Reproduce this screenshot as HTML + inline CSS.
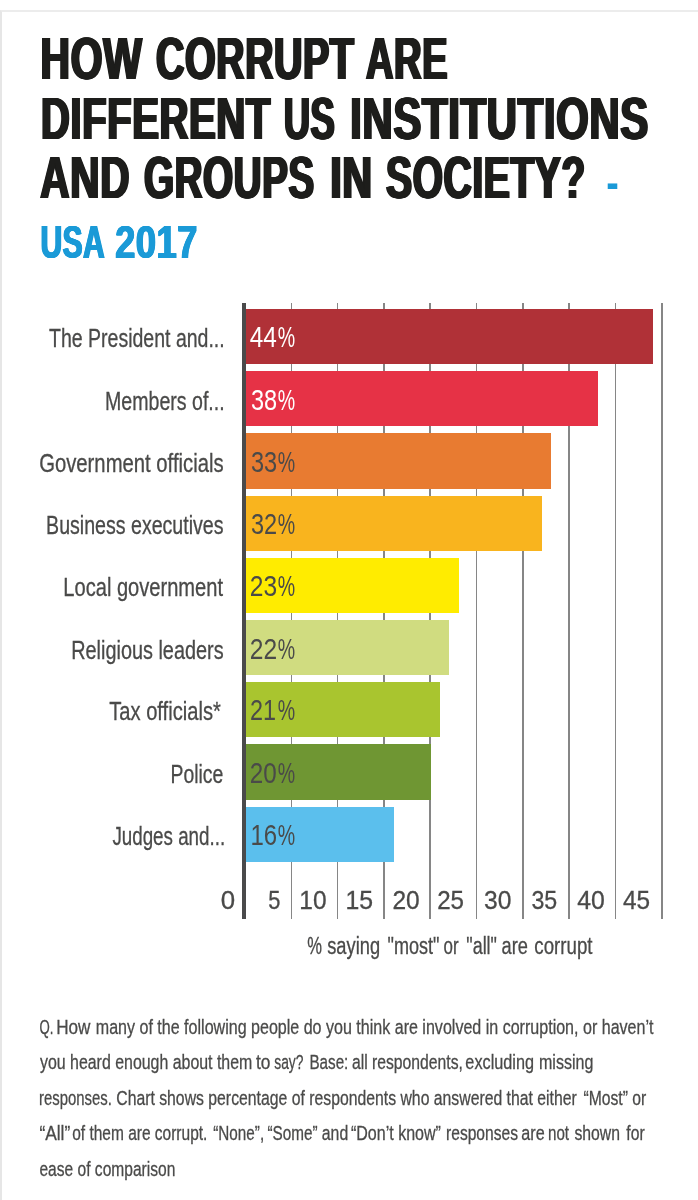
<!DOCTYPE html>
<html lang="en"><head><meta charset="utf-8"><title>How corrupt are different US institutions and groups in society? - USA 2017</title>
<style>
html,body{margin:0;padding:0;background:#fff;}
body{width:698px;height:1200px;position:relative;overflow:hidden;font-family:"Liberation Sans", sans-serif;}
.frame{position:absolute;left:0;top:10px;width:720px;height:1300px;border-top:2px solid #ececec;border-left:2px solid #e6e6e6;box-sizing:border-box;}
.t{position:absolute;left:0;white-space:nowrap;transform-origin:0 0;display:block;margin:0;padding:0;}
.bar{position:absolute;left:245.1px;height:55.3px;}
.grid{position:absolute;top:303px;height:615.5px;width:1.4px;background:#868686;}
.axis{position:absolute;left:242.2px;top:303px;width:3.5px;height:615.5px;background:#4a4a4b;}
.dash{position:absolute;left:607.4px;top:182.5px;width:10px;height:5.6px;background:#1a9ad7;}
</style></head><body>
<div class="frame"></div>
<div class="chart">
<div class="grid" style="left:290.50px"></div>
<div class="grid" style="left:336.83px"></div>
<div class="grid" style="left:383.16px"></div>
<div class="grid" style="left:429.49px"></div>
<div class="grid" style="left:475.82px"></div>
<div class="grid" style="left:522.15px"></div>
<div class="grid" style="left:568.48px"></div>
<div class="grid" style="left:614.81px"></div>
<div class="grid" style="left:661.14px"></div>
<div class="bar" style="top:309.00px;width:408.32px;background:#b03137"></div>
<div class="bar" style="top:371.20px;width:352.64px;background:#e63246"></div>
<div class="bar" style="top:433.40px;width:306.24px;background:#e87b31"></div>
<div class="bar" style="top:495.60px;width:296.96px;background:#f9b41e"></div>
<div class="bar" style="top:557.80px;width:213.44px;background:#ffec00"></div>
<div class="bar" style="top:620.00px;width:204.16px;background:#d0dc80"></div>
<div class="bar" style="top:682.20px;width:194.88px;background:#a9c52f"></div>
<div class="bar" style="top:744.40px;width:185.60px;background:#6f9633"></div>
<div class="bar" style="top:806.60px;width:148.48px;background:#5bbfed"></div>
<div class="axis"></div>
</div>
<span class="t" id="t0" style="top:29px;font-size:59.5px;line-height:59.5px;font-weight:700;color:#1d1d1b;transform:translateX(40.33px) scaleX(0.6917);letter-spacing:0.8px;text-shadow:1.73px 0 0 #1d1d1b,-1.73px 0 0 #1d1d1b,0.87px 0 0 #1d1d1b,-0.87px 0 0 #1d1d1b;">HOW</span>
<span class="t" id="t1" style="top:29px;font-size:59.5px;line-height:59.5px;font-weight:700;color:#1d1d1b;transform:translateX(155.97px) scaleX(0.6619);letter-spacing:0.8px;text-shadow:1.81px 0 0 #1d1d1b,-1.81px 0 0 #1d1d1b,0.91px 0 0 #1d1d1b,-0.91px 0 0 #1d1d1b;">CORRUPT</span>
<span class="t" id="t2" style="top:29px;font-size:59.5px;line-height:59.5px;font-weight:700;color:#1d1d1b;transform:translateX(365.90px) scaleX(0.6422);letter-spacing:0.8px;text-shadow:1.87px 0 0 #1d1d1b,-1.87px 0 0 #1d1d1b,0.93px 0 0 #1d1d1b,-0.93px 0 0 #1d1d1b;">ARE</span>
<span class="t" id="t3" style="top:89px;font-size:59.5px;line-height:59.5px;font-weight:700;color:#1d1d1b;transform:translateX(40.89px) scaleX(0.6744);letter-spacing:0.8px;text-shadow:1.78px 0 0 #1d1d1b,-1.78px 0 0 #1d1d1b,0.89px 0 0 #1d1d1b,-0.89px 0 0 #1d1d1b;">DIFFERENT</span>
<span class="t" id="t4" style="top:89px;font-size:59.5px;line-height:59.5px;font-weight:700;color:#1d1d1b;transform:translateX(283.90px) scaleX(0.6094);letter-spacing:0.8px;text-shadow:1.97px 0 0 #1d1d1b,-1.97px 0 0 #1d1d1b,0.98px 0 0 #1d1d1b,-0.98px 0 0 #1d1d1b;">US</span>
<span class="t" id="t5" style="top:89px;font-size:59.5px;line-height:59.5px;font-weight:700;color:#1d1d1b;transform:translateX(350.17px) scaleX(0.7065);letter-spacing:0.8px;text-shadow:1.70px 0 0 #1d1d1b,-1.70px 0 0 #1d1d1b,0.85px 0 0 #1d1d1b,-0.85px 0 0 #1d1d1b;">INSTITUTIONS</span>
<span class="t" id="t6" style="top:148px;font-size:59.5px;line-height:59.5px;font-weight:700;color:#1d1d1b;transform:translateX(40.16px) scaleX(0.6854);letter-spacing:0.8px;text-shadow:1.75px 0 0 #1d1d1b,-1.75px 0 0 #1d1d1b,0.88px 0 0 #1d1d1b,-0.88px 0 0 #1d1d1b;">AND</span>
<span class="t" id="t7" style="top:148px;font-size:59.5px;line-height:59.5px;font-weight:700;color:#1d1d1b;transform:translateX(143.99px) scaleX(0.6500);letter-spacing:0.8px;text-shadow:1.85px 0 0 #1d1d1b,-1.85px 0 0 #1d1d1b,0.92px 0 0 #1d1d1b,-0.92px 0 0 #1d1d1b;">GROUPS</span>
<span class="t" id="t8" style="top:148px;font-size:59.5px;line-height:59.5px;font-weight:700;color:#1d1d1b;transform:translateX(330.22px) scaleX(0.6950);letter-spacing:0.8px;text-shadow:1.73px 0 0 #1d1d1b,-1.73px 0 0 #1d1d1b,0.86px 0 0 #1d1d1b,-0.86px 0 0 #1d1d1b;">IN</span>
<span class="t" id="t9" style="top:148px;font-size:59.5px;line-height:59.5px;font-weight:700;color:#1d1d1b;transform:translateX(385.99px) scaleX(0.6575);letter-spacing:0.8px;text-shadow:1.83px 0 0 #1d1d1b,-1.83px 0 0 #1d1d1b,0.91px 0 0 #1d1d1b,-0.91px 0 0 #1d1d1b;">SOCIETY?</span>
<span class="t" id="t10" style="top:158px;font-size:47px;line-height:47px;font-weight:700;color:#1a9ad7;transform:translateX(606.22px) scaleX(0.8010);">-</span>
<span class="t" id="t11" style="top:218px;font-size:47px;line-height:47px;font-weight:700;color:#1a9ad7;transform:translateX(40.49px) scaleX(0.6404);letter-spacing:0.5px;text-shadow:1.09px 0 0 #1a9ad7,-1.09px 0 0 #1a9ad7,0.55px 0 0 #1a9ad7,-0.55px 0 0 #1a9ad7;">USA</span>
<span class="t" id="t12" style="top:218px;font-size:47px;line-height:47px;font-weight:700;color:#1a9ad7;transform:translateX(115.16px) scaleX(0.7752);letter-spacing:0.5px;text-shadow:0.90px 0 0 #1a9ad7,-0.90px 0 0 #1a9ad7,0.45px 0 0 #1a9ad7,-0.45px 0 0 #1a9ad7;">2017</span>
<span class="t" id="t13" style="top:326px;font-size:25.5px;line-height:25.5px;font-weight:400;color:#4a4a49;transform:translateX(49.12px) scaleX(0.7644);-webkit-text-stroke:0.3px #4a4a49;">The President and...</span>
<span class="t" id="t14" style="top:389px;font-size:25.5px;line-height:25.5px;font-weight:400;color:#4a4a49;transform:translateX(105.07px) scaleX(0.7672);-webkit-text-stroke:0.3px #4a4a49;">Members of...</span>
<span class="t" id="t15" style="top:451px;font-size:25.5px;line-height:25.5px;font-weight:400;color:#4a4a49;transform:translateX(39.15px) scaleX(0.7951);-webkit-text-stroke:0.3px #4a4a49;">Government officials</span>
<span class="t" id="t16" style="top:513px;font-size:25.5px;line-height:25.5px;font-weight:400;color:#4a4a49;transform:translateX(46.06px) scaleX(0.7682);-webkit-text-stroke:0.3px #4a4a49;">Business executives</span>
<span class="t" id="t17" style="top:575px;font-size:25.5px;line-height:25.5px;font-weight:400;color:#4a4a49;transform:translateX(63.32px) scaleX(0.7879);-webkit-text-stroke:0.3px #4a4a49;">Local government</span>
<span class="t" id="t18" style="top:638px;font-size:25.5px;line-height:25.5px;font-weight:400;color:#4a4a49;transform:translateX(71.24px) scaleX(0.7787);-webkit-text-stroke:0.3px #4a4a49;">Religious leaders</span>
<span class="t" id="t19" style="top:699px;font-size:25.5px;line-height:25.5px;font-weight:400;color:#4a4a49;transform:translateX(109.20px) scaleX(0.7904);-webkit-text-stroke:0.3px #4a4a49;">Tax officials*</span>
<span class="t" id="t20" style="top:762px;font-size:25.5px;line-height:25.5px;font-weight:400;color:#4a4a49;transform:translateX(170.48px) scaleX(0.7594);-webkit-text-stroke:0.3px #4a4a49;">Police</span>
<span class="t" id="t21" style="top:824px;font-size:25.5px;line-height:25.5px;font-weight:400;color:#4a4a49;transform:translateX(112.38px) scaleX(0.7367);-webkit-text-stroke:0.3px #4a4a49;">Judges and...</span>
<span class="t" id="t22" style="top:322px;font-size:30px;line-height:30px;font-weight:400;color:#ffffff;transform:translateX(249.72px) scaleX(0.8117);">44</span>
<span class="t" id="t23" style="top:322px;font-size:30px;line-height:30px;font-weight:400;color:#ffffff;transform:translateX(277.69px) scaleX(0.6521);">%</span>
<span class="t" id="t24" style="top:385px;font-size:30px;line-height:30px;font-weight:400;color:#ffffff;transform:translateX(250.96px) scaleX(0.7849);">38</span>
<span class="t" id="t25" style="top:385px;font-size:30px;line-height:30px;font-weight:400;color:#ffffff;transform:translateX(277.69px) scaleX(0.6521);">%</span>
<span class="t" id="t26" style="top:447px;font-size:30px;line-height:30px;font-weight:400;color:#4a4a49;transform:translateX(250.96px) scaleX(0.7849);">33</span>
<span class="t" id="t27" style="top:447px;font-size:30px;line-height:30px;font-weight:400;color:#4a4a49;transform:translateX(277.69px) scaleX(0.6521);">%</span>
<span class="t" id="t28" style="top:509px;font-size:30px;line-height:30px;font-weight:400;color:#4a4a49;transform:translateX(250.96px) scaleX(0.7849);">32</span>
<span class="t" id="t29" style="top:509px;font-size:30px;line-height:30px;font-weight:400;color:#4a4a49;transform:translateX(277.69px) scaleX(0.6521);">%</span>
<span class="t" id="t30" style="top:571px;font-size:30px;line-height:30px;font-weight:400;color:#4a4a49;transform:translateX(249.85px) scaleX(0.8196);">23</span>
<span class="t" id="t31" style="top:571px;font-size:30px;line-height:30px;font-weight:400;color:#4a4a49;transform:translateX(277.69px) scaleX(0.6521);">%</span>
<span class="t" id="t32" style="top:634px;font-size:30px;line-height:30px;font-weight:400;color:#4a4a49;transform:translateX(249.85px) scaleX(0.8196);">22</span>
<span class="t" id="t33" style="top:634px;font-size:30px;line-height:30px;font-weight:400;color:#4a4a49;transform:translateX(277.69px) scaleX(0.6521);">%</span>
<span class="t" id="t34" style="top:695px;font-size:30px;line-height:30px;font-weight:400;color:#4a4a49;transform:translateX(249.90px) scaleX(0.7806);">21</span>
<span class="t" id="t35" style="top:695px;font-size:30px;line-height:30px;font-weight:400;color:#4a4a49;transform:translateX(277.69px) scaleX(0.6521);">%</span>
<span class="t" id="t36" style="top:758px;font-size:30px;line-height:30px;font-weight:400;color:#4a4a49;transform:translateX(249.86px) scaleX(0.8073);">20</span>
<span class="t" id="t37" style="top:758px;font-size:30px;line-height:30px;font-weight:400;color:#4a4a49;transform:translateX(277.69px) scaleX(0.6521);">%</span>
<span class="t" id="t38" style="top:820px;font-size:30px;line-height:30px;font-weight:400;color:#4a4a49;transform:translateX(250.50px) scaleX(0.7993);">16</span>
<span class="t" id="t39" style="top:820px;font-size:30px;line-height:30px;font-weight:400;color:#4a4a49;transform:translateX(277.69px) scaleX(0.6521);">%</span>
<span class="t" id="t40" style="top:888px;font-size:25px;line-height:25px;font-weight:400;color:#4a4a49;transform:translateX(220.67px) scaleX(1.0331);-webkit-text-stroke:0.3px #4a4a49;">0</span>
<span class="t" id="t41" style="top:888px;font-size:25px;line-height:25px;font-weight:400;color:#4a4a49;transform:translateX(268.33px) scaleX(0.8739);-webkit-text-stroke:0.3px #4a4a49;">5</span>
<span class="t" id="t42" style="top:888px;font-size:25px;line-height:25px;font-weight:400;color:#4a4a49;transform:translateX(299.34px) scaleX(0.9799);-webkit-text-stroke:0.3px #4a4a49;">10</span>
<span class="t" id="t43" style="top:888px;font-size:25px;line-height:25px;font-weight:400;color:#4a4a49;transform:translateX(345.52px) scaleX(0.9918);-webkit-text-stroke:0.3px #4a4a49;">15</span>
<span class="t" id="t44" style="top:888px;font-size:25px;line-height:25px;font-weight:400;color:#4a4a49;transform:translateX(392.42px) scaleX(0.9804);-webkit-text-stroke:0.3px #4a4a49;">20</span>
<span class="t" id="t45" style="top:888px;font-size:25px;line-height:25px;font-weight:400;color:#4a4a49;transform:translateX(437.14px) scaleX(0.9647);-webkit-text-stroke:0.3px #4a4a49;">25</span>
<span class="t" id="t46" style="top:888px;font-size:25px;line-height:25px;font-weight:400;color:#4a4a49;transform:translateX(484.11px) scaleX(0.9845);-webkit-text-stroke:0.3px #4a4a49;">30</span>
<span class="t" id="t47" style="top:888px;font-size:25px;line-height:25px;font-weight:400;color:#4a4a49;transform:translateX(531.47px) scaleX(0.9265);-webkit-text-stroke:0.3px #4a4a49;">35</span>
<span class="t" id="t48" style="top:888px;font-size:25px;line-height:25px;font-weight:400;color:#4a4a49;transform:translateX(577.20px) scaleX(0.9923);-webkit-text-stroke:0.3px #4a4a49;">40</span>
<span class="t" id="t49" style="top:888px;font-size:25px;line-height:25px;font-weight:400;color:#4a4a49;transform:translateX(622.91px) scaleX(0.9732);-webkit-text-stroke:0.3px #4a4a49;">45</span>
<span class="t" id="t50" style="top:935px;font-size:23px;line-height:23px;font-weight:400;color:#4a4a49;transform:translateX(307.32px) scaleX(0.7196);-webkit-text-stroke:0.3px #4a4a49;">%</span>
<span class="t" id="t51" style="top:935px;font-size:23px;line-height:23px;font-weight:400;color:#4a4a49;transform:translateX(327.22px) scaleX(0.7954);-webkit-text-stroke:0.3px #4a4a49;">saying</span>
<span class="t" id="t52" style="top:935px;font-size:23px;line-height:23px;font-weight:400;color:#4a4a49;transform:translateX(387.59px) scaleX(0.7838);-webkit-text-stroke:0.3px #4a4a49;">"most"</span>
<span class="t" id="t53" style="top:935px;font-size:23px;line-height:23px;font-weight:400;color:#4a4a49;transform:translateX(443.54px) scaleX(0.7347);-webkit-text-stroke:0.3px #4a4a49;">or</span>
<span class="t" id="t54" style="top:935px;font-size:23px;line-height:23px;font-weight:400;color:#4a4a49;transform:translateX(466.30px) scaleX(0.7792);-webkit-text-stroke:0.3px #4a4a49;">"all"</span>
<span class="t" id="t55" style="top:935px;font-size:23px;line-height:23px;font-weight:400;color:#4a4a49;transform:translateX(501.59px) scaleX(0.7911);-webkit-text-stroke:0.3px #4a4a49;">are</span>
<span class="t" id="t56" style="top:935px;font-size:23px;line-height:23px;font-weight:400;color:#4a4a49;transform:translateX(534.37px) scaleX(0.8117);-webkit-text-stroke:0.3px #4a4a49;">corrupt</span>
<span class="t" id="t57" style="top:1017px;font-size:20.5px;line-height:20.5px;font-weight:400;color:#4a4a49;transform:translateX(39.42px) scaleX(0.6440);-webkit-text-stroke:0.3px #4a4a49;">Q.</span>
<span class="t" id="t58" style="top:1017px;font-size:20.5px;line-height:20.5px;font-weight:400;color:#4a4a49;transform:translateX(56.16px) scaleX(0.8353);-webkit-text-stroke:0.3px #4a4a49;">How</span>
<span class="t" id="t59" style="top:1017px;font-size:20.5px;line-height:20.5px;font-weight:400;color:#4a4a49;transform:translateX(95.78px) scaleX(0.7830);-webkit-text-stroke:0.3px #4a4a49;">many of the following people do you think are involved in corruption, or haven’t</span>
<span class="t" id="t60" style="top:1052px;font-size:20.5px;line-height:20.5px;font-weight:400;color:#4a4a49;transform:translateX(40.00px) scaleX(0.7761);-webkit-text-stroke:0.3px #4a4a49;">you heard enough about them</span>
<span class="t" id="t61" style="top:1052px;font-size:20.5px;line-height:20.5px;font-weight:400;color:#4a4a49;transform:translateX(256.05px) scaleX(0.8440);-webkit-text-stroke:0.3px #4a4a49;">to</span>
<span class="t" id="t62" style="top:1052px;font-size:20.5px;line-height:20.5px;font-weight:400;color:#4a4a49;transform:translateX(274.26px) scaleX(0.6746);-webkit-text-stroke:0.3px #4a4a49;">say?</span>
<span class="t" id="t63" style="top:1052px;font-size:20.5px;line-height:20.5px;font-weight:400;color:#4a4a49;transform:translateX(309.41px) scaleX(0.7425);-webkit-text-stroke:0.3px #4a4a49;">Base:</span>
<span class="t" id="t64" style="top:1052px;font-size:20.5px;line-height:20.5px;font-weight:400;color:#4a4a49;transform:translateX(351.89px) scaleX(0.7669);-webkit-text-stroke:0.3px #4a4a49;">all respondents,</span>
<span class="t" id="t65" style="top:1052px;font-size:20.5px;line-height:20.5px;font-weight:400;color:#4a4a49;transform:translateX(465.37px) scaleX(0.7928);-webkit-text-stroke:0.3px #4a4a49;">excluding</span>
<span class="t" id="t66" style="top:1052px;font-size:20.5px;line-height:20.5px;font-weight:400;color:#4a4a49;transform:translateX(538.98px) scaleX(0.7819);-webkit-text-stroke:0.3px #4a4a49;">missing</span>
<span class="t" id="t67" style="top:1088px;font-size:20.5px;line-height:20.5px;font-weight:400;color:#4a4a49;transform:translateX(39.06px) scaleX(0.7254);-webkit-text-stroke:0.3px #4a4a49;">responses.</span>
<span class="t" id="t68" style="top:1088px;font-size:20.5px;line-height:20.5px;font-weight:400;color:#4a4a49;transform:translateX(116.23px) scaleX(0.7698);-webkit-text-stroke:0.3px #4a4a49;">Chart shows percentage of respondents who answered that either</span>
<span class="t" id="t69" style="top:1088px;font-size:20.5px;line-height:20.5px;font-weight:400;color:#4a4a49;transform:translateX(583.46px) scaleX(0.7657);-webkit-text-stroke:0.3px #4a4a49;">“Most” or</span>
<span class="t" id="t70" style="top:1123px;font-size:20.5px;line-height:20.5px;font-weight:400;color:#4a4a49;transform:translateX(39.41px) scaleX(0.8455);-webkit-text-stroke:0.3px #4a4a49;">“All”</span>
<span class="t" id="t71" style="top:1123px;font-size:20.5px;line-height:20.5px;font-weight:400;color:#4a4a49;transform:translateX(72.20px) scaleX(0.7556);-webkit-text-stroke:0.3px #4a4a49;">of them are corrupt.</span>
<span class="t" id="t72" style="top:1123px;font-size:20.5px;line-height:20.5px;font-weight:400;color:#4a4a49;transform:translateX(213.28px) scaleX(0.7440);-webkit-text-stroke:0.3px #4a4a49;">“None”,</span>
<span class="t" id="t73" style="top:1123px;font-size:20.5px;line-height:20.5px;font-weight:400;color:#4a4a49;transform:translateX(267.48px) scaleX(0.7449);-webkit-text-stroke:0.3px #4a4a49;">“Some”</span>
<span class="t" id="t74" style="top:1123px;font-size:20.5px;line-height:20.5px;font-weight:400;color:#4a4a49;transform:translateX(321.78px) scaleX(0.7725);-webkit-text-stroke:0.3px #4a4a49;">and</span>
<span class="t" id="t75" style="top:1123px;font-size:20.5px;line-height:20.5px;font-weight:400;color:#4a4a49;transform:translateX(350.95px) scaleX(0.7823);-webkit-text-stroke:0.3px #4a4a49;">“Don’t know”</span>
<span class="t" id="t76" style="top:1123px;font-size:20.5px;line-height:20.5px;font-weight:400;color:#4a4a49;transform:translateX(446.01px) scaleX(0.7611);-webkit-text-stroke:0.3px #4a4a49;">responses</span>
<span class="t" id="t77" style="top:1123px;font-size:20.5px;line-height:20.5px;font-weight:400;color:#4a4a49;transform:translateX(521.37px) scaleX(0.7877);-webkit-text-stroke:0.3px #4a4a49;">are</span>
<span class="t" id="t78" style="top:1123px;font-size:20.5px;line-height:20.5px;font-weight:400;color:#4a4a49;transform:translateX(548.04px) scaleX(0.7379);-webkit-text-stroke:0.3px #4a4a49;">not</span>
<span class="t" id="t79" style="top:1123px;font-size:20.5px;line-height:20.5px;font-weight:400;color:#4a4a49;transform:translateX(574.42px) scaleX(0.7693);-webkit-text-stroke:0.3px #4a4a49;">shown</span>
<span class="t" id="t80" style="top:1123px;font-size:20.5px;line-height:20.5px;font-weight:400;color:#4a4a49;transform:translateX(626.35px) scaleX(0.7651);-webkit-text-stroke:0.3px #4a4a49;">for</span>
<span class="t" id="t81" style="top:1159px;font-size:20.5px;line-height:20.5px;font-weight:400;color:#4a4a49;transform:translateX(39.39px) scaleX(0.7602);-webkit-text-stroke:0.3px #4a4a49;">ease of comparison</span>
</body></html>
